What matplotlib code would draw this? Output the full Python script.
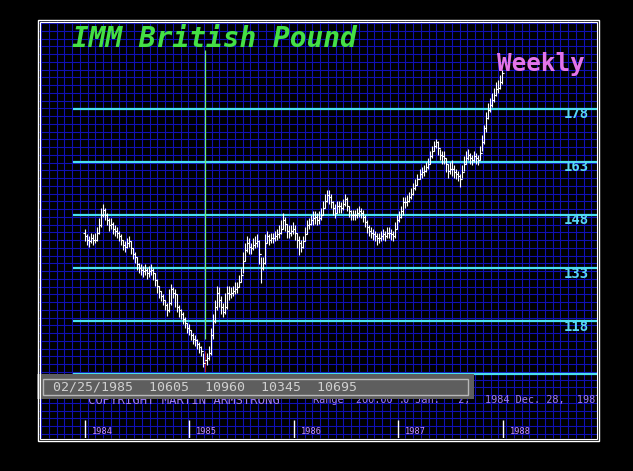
import numpy as np
import matplotlib
matplotlib.use("Agg")
import matplotlib.pyplot as plt
from matplotlib.patches import Rectangle

# weekly bars, Jan 2 1984 .. Dec 28 1987
start = np.datetime64("1984-01-02")
years = ["1984", "1985", "1986", "1987", "1988"]
levels = [103, 118, 133, 148, 163, 178]

first_open = 143
closes = [
    142, 141, 140.5, 141.5, 141, 141, 143, 145, 148,
    149.5, 148, 146.5, 145, 145.5, 144, 143.5, 143, 142, 141,
    139.5, 139, 140, 140.5, 138.5, 137, 136, 134, 133, 132.5,
    132, 132.5, 131.5, 132, 132.5, 131.5, 129.5, 128, 126.5, 125,
    124, 122.5, 121, 123, 127, 126, 125.5, 122, 121, 120,
    118.5, 117.5, 116, 115.5, 114, 113, 112.5, 111.5, 110.5, 109.5,
    106.05, 106.95, 107.5, 109, 114, 118, 122, 126, 124, 122,
    120.5, 122, 126, 125.5, 126, 126.5, 127, 127.5, 129, 131,
    135, 138, 140, 139, 138.5, 139.5, 140, 140.5, 137, 133,
    134.5, 140, 142, 141, 141.5, 141.5, 142, 142.5, 143, 144,
    146.5, 145.5, 143.5, 143, 143.5, 144, 143, 141, 140, 139,
    140.5, 142.5, 145, 145.5, 146.5, 147, 147.5, 146.5, 147, 148,
    150, 152, 153.5, 153, 151.5, 150, 148.5, 150.5, 150.5, 150,
    151, 152.5, 150.5, 149, 148, 148, 148, 148.5, 149, 148.5,
    147.5, 146, 144.5, 143.5, 143, 142.5, 142, 141.5, 141.5, 142,
    142.5, 142, 143, 143, 142.5, 142, 144, 146.5, 147.5, 149,
    151.5, 151.5, 152, 153, 154, 155.5, 156.5, 158, 159.5, 160,
    160.5, 161.5, 162.5, 164.5, 166, 167.5, 168.5, 167, 165, 164.5,
    164, 162.5, 160.5, 161, 161, 160, 159.5, 159, 158, 160,
    162.5, 164, 165, 164, 163.5, 164.5, 164, 163.5, 165.5, 168.5,
    172.5, 175.5, 177.5, 179, 180.5, 182, 183.5, 184, 185.5, 188,
]
highs = [
    144, 142.5, 142, 143, 142.5, 143, 144.5, 147, 150,
    151, 150, 148.5, 147, 147, 146, 145, 144.5, 143.5, 142.5,
    141, 140.5, 141.5, 142, 140.5, 138.5, 137.5, 136, 134.5, 134,
    133.5, 134, 133, 133.5, 134, 133, 131.5, 130, 128, 126.5,
    125.5, 124, 123, 127, 128.5, 127.5, 127, 125.5, 122.5, 121.5,
    120.5, 119, 117.5, 117, 115.5, 114.5, 114, 113, 112, 111,
    109, 109.6, 109, 111, 116, 120, 124, 128, 127.5, 125,
    123, 126, 128, 128, 127.5, 128, 129, 129, 131, 133,
    137.5, 140, 142, 141.5, 140, 141.5, 142, 142.5, 141, 136,
    136, 142.5, 143.5, 142.5, 143, 143, 143.5, 144, 145, 146.5,
    148.5, 147.5, 145.5, 145, 145, 146, 145, 143, 142, 141,
    142, 144.5, 146.5, 147, 148, 149, 149, 148.5, 149, 150,
    152, 154, 155, 155, 154, 152, 151, 152, 152, 151.5,
    152.5, 154, 153, 150.5, 149.5, 149.5, 149.5, 150, 150.5, 150,
    149.5, 148, 146.5, 145, 144.5, 144, 143.5, 143, 143, 143.5,
    144, 143.5, 144.5, 144.5, 144, 143.5, 146, 148, 149, 150.5,
    153, 153, 153.5, 154.5, 155.5, 157, 158, 159.5, 161, 161.5,
    162, 163, 164, 166, 167.5, 169, 169.5, 169, 166.5, 166,
    166, 164, 162.5, 163, 163.5, 162, 161, 160.5, 159.5, 162,
    164.5, 166, 166.5, 165.5, 165, 166, 165.5, 165, 167.5, 170.5,
    173.5, 177, 179.5, 181, 182.5, 184, 185.5, 186, 187.5, 189,
]
lows = [
    140.5, 139.5, 139, 140, 139.5, 140, 140.5, 142.5, 144.5,
    147.5, 146.5, 145, 143.5, 144, 142.5, 142, 141.5, 140.5, 139.5,
    138, 137.5, 138.5, 139, 137, 135.5, 134.5, 132.5, 131.5, 131,
    130.5, 131, 130, 130.5, 131, 129.5, 128, 126, 124.5, 123.5,
    122.5, 121, 119.5, 120.5, 122.5, 124.5, 122, 120.5, 119, 118.5,
    117, 116, 114.5, 114, 112.5, 111.5, 111, 110, 109, 108,
    105, 103.45, 105.5, 107, 108.5, 113, 117.5, 121, 122, 120,
    119, 120, 121.5, 124, 124.5, 125, 125.5, 126, 127.5, 129,
    131.5, 135, 137.5, 137, 137, 138, 138.5, 139, 134, 128.7,
    132.5, 134, 140, 139.5, 140, 140, 140.5, 141, 141.5, 142.5,
    144, 143.5, 141.5, 141.5, 142, 142.5, 141, 138.5, 136.6, 137.5,
    138.5, 140.5, 142.5, 144, 145, 145, 145.5, 145, 145.5, 146.5,
    148, 150, 151.5, 151, 150, 148, 147, 148.5, 148.5, 148.5,
    149.5, 150.5, 149, 147.5, 146.5, 146.5, 146.5, 147, 147.5, 147,
    146, 144.5, 143, 142, 141.5, 141, 140.5, 139.5, 140, 140.5,
    141, 140.5, 141.5, 141.5, 141, 140.5, 141.5, 144, 146, 147,
    148, 150, 150.5, 151.5, 152.5, 153.5, 155, 156.5, 158, 158.5,
    159, 160, 161, 162.5, 164, 166, 167, 165, 163.5, 162.5,
    162.5, 160, 158.5, 159.5, 159, 158.5, 158, 157.5, 156, 158.5,
    160.5, 162.5, 163.5, 162.5, 162, 163, 162.5, 162, 163.5, 166,
    168, 171.5, 175, 177, 178.5, 180, 181.5, 182.5, 183.5, 185,
]
cursor = 60  # week of 02/25/1985
status = ["02/25/1985", "10605", "10960", "10345", "10695"]
footer = "COPYRIGHT MARTIN ARMSTRONG"
range_a = "Range  200.00 :"
range_b = "0 Jan.   2,"
dates_txt = "1984 Dec. 28,  1987"

W, H = 633, 471
fig = plt.figure(figsize=(6.33, 4.71), dpi=100, facecolor="black")

# background grid, in pixel coords
bg = fig.add_axes([0, 0, 1, 1])
bg.set_xlim(0, W)
bg.set_ylim(H, 0)
bg.axis("off")
bg.add_patch(Rectangle((39, 21), 558, 417, fc="black", ec="none"))
gx = np.arange(41, 597, 7.75)
gy = np.arange(23, 438, 7.75)
bg.vlines(gx, 21, 438, color="#1010b4", lw=0.8)
bg.hlines(gy, 39, 597, color="#1010b4", lw=0.8)

# price axes
px_per_week = 2.003
px_per_pt = 3.537
ax = fig.add_axes([39 / W, 1 - 438 / H, 558 / W, 417 / H])
ax.set_xlim((39 - 85) / px_per_week, (597 - 85) / px_per_week)
ax.set_ylim(103 + (374 - 438) / px_per_pt, 103 + (374 - 21) / px_per_pt)
ax.axis("off")
ax.patch.set_alpha(0)

xmax = (597 - 85) / px_per_week
ax.hlines(levels, (73 - 85) / px_per_week, xmax, color="#48e0f0", lw=1.6, zorder=2)
for lv in levels[1:]:
    ax.text((576 - 85) / px_per_week, lv - 1.6, str(lv), color="#58d8f4",
            fontsize=10, fontweight="bold", family="DejaVu Sans Mono",
            ha="center", va="center")

wk = np.arange(len(closes))
opens = [first_open] + closes[:-1]
bar_col = ["#b01818" if i == cursor else "white" for i in wk]
ax.vlines(wk, lows, highs, colors=bar_col, lw=0.8, zorder=4)
ax.hlines(opens, wk - 1.0, wk, colors="white", lw=0.8, zorder=4)
ax.hlines(closes, wk, wk + 1.0, colors="white", lw=0.8, zorder=4)

# cursor line
ax.vlines(cursor, 113, 194.5, color="#70f070", lw=0.9, zorder=3)

# year ticks
ypos = [(np.datetime64(y + "-01-01") - start) / np.timedelta64(7, "D") for y in years]
tr = ax.get_xaxis_transform()
ax.vlines(ypos, 0, 18 / 417, color="white", lw=1.0, transform=tr)
for x, y in zip(ypos, years):
    ax.text(x + 3.4, 6 / 417, y, color="#c890ff", fontsize=6.2,
            family="DejaVu Sans Mono", ha="left", va="center", transform=tr)

fg = fig.add_axes([0, 0, 1, 1])
fg.set_xlim(0, W)
fg.set_ylim(H, 0)
fg.axis("off")
fg.patch.set_alpha(0)

# footer text (partly under status box), clipped at the panel edge
for x, s, fs in [(88, footer, 8.8), (313, range_a, 7.4), (403, range_b, 7.4),
                 (485, dates_txt, 7.4)]:
    ax.text(x, 400, s, color="#a07cf0", fontsize=fs, family="DejaVu Sans Mono",
            ha="left", va="center", transform=fg.transData, clip_on=True)

# status box
fg.add_patch(Rectangle((37, 374), 437, 25, fc="#5e5e5e", ec="none", zorder=5))
fg.add_patch(Rectangle((43, 379), 425, 16, fill=False, ec="#b8b8b8", lw=1.0, zorder=6))
fg.text(53, 387.5, "  ".join(status), color="#d0d0d0", fontsize=9.5,
        family="DejaVu Sans Mono", ha="left", va="center", zorder=7)

# border
fg.add_patch(Rectangle((37.5, 19.5), 561, 421, fill=False, ec="white", lw=1.0, zorder=8))
fg.add_patch(Rectangle((39.5, 21.5), 557, 417, fill=False, ec="white", lw=0.8, zorder=8))

# titles
fg.text(72, 39, "IMM British Pound", color="#44e044", fontsize=20,
        fontweight="bold", fontstyle="italic", family="DejaVu Sans Mono",
        ha="left", va="center", zorder=7)
fg.text(497, 64, "Weekly", color="#e474e8", fontsize=17.5, fontweight="bold",
        family="DejaVu Sans Mono", ha="left", va="center", zorder=7)

fig.savefig("out.png", dpi=100, facecolor="black")
